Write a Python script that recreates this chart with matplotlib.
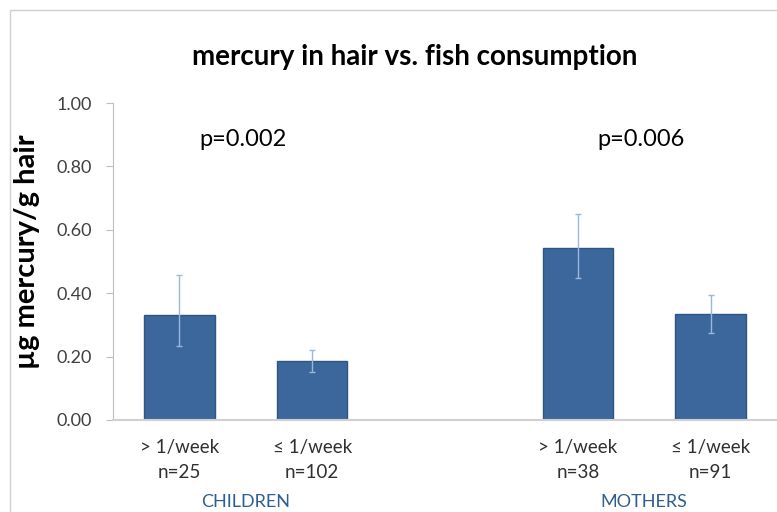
import numpy as np
import matplotlib.pyplot as plt
from matplotlib.patches import Rectangle

# data
positions = [0, 1, 3, 4]
freq_labels = ['> 1/week', '\u2264 1/week', '> 1/week', '\u2264 1/week']
n_labels = ['n=25', 'n=102', 'n=38', 'n=91']
means = [0.331, 0.186, 0.542, 0.334]
err_low = [0.097, 0.036, 0.095, 0.059]
err_high = [0.125, 0.035, 0.107, 0.061]
groups = ['CHILDREN', 'MOTHERS']
group_pos = [0.5, 3.5]
p_values = ['p=0.002', 'p=0.006']
p_pos = [0.5, 3.5]

plt.rcParams['font.family'] = ['Lato', 'DejaVu Sans']

fig = plt.figure(figsize=(7.77, 5.12), dpi=100)
ax = fig.add_axes([113 / 777, 1 - 420 / 512, 1 - 113 / 777, (420 - 103) / 512])

# outer chart border (partly cropped)
fig.patches.append(Rectangle((10 / 777, -0.1), 1.2, 1 - 10 / 512 + 0.1,
                             transform=fig.transFigure, fill=False,
                             edgecolor='#d0d0d0', linewidth=1))

ax.bar(positions, means, width=0.53, color='#3b679d', edgecolor='#2f5580',
       linewidth=1, zorder=2)
ax.errorbar(positions, means, yerr=[err_low, err_high], fmt='none',
            ecolor='#9cb8d8', elinewidth=1, capsize=2, capthick=1, zorder=3)

ax.set_xlim(-0.5, 4.5)
ax.set_ylim(0, 1)
ax.set_yticks(np.arange(0, 1.01, 0.2))
ax.set_yticklabels([f'{v:.2f}' for v in np.arange(0, 1.01, 0.2)], fontsize=13,
                   color='#404040')
ax.set_xticks([])
ax.tick_params(axis='y', direction='out', length=5, color='#bfbfbf', pad=10)

for s in ['top', 'right']:
    ax.spines[s].set_visible(False)
ax.spines['left'].set_color('#bfbfbf')
ax.spines['bottom'].set_color('#d0d0d0')
ax.spines['bottom'].set_linewidth(1.5)

for x, f, n in zip(positions, freq_labels, n_labels):
    ax.text(x, -27 / 317, f, ha='center', va='center', fontsize=13.5, color='#303030')
    ax.text(x, -52 / 317, n, ha='center', va='center', fontsize=13.5, color='#303030')
for x, g in zip(group_pos, groups):
    ax.text(x, -82 / 317, g, ha='center', va='center', fontsize=13, color='#2e5f91')
for x, p in zip(p_pos, p_values):
    ax.text(x - 0.02, 0.885, p, ha='center', va='center', fontsize=17, color='black')

ax.set_ylabel('\u00b5g mercury/g hair', fontsize=21, fontweight='bold', labelpad=6)
ax.yaxis.set_label_coords(-0.11, 0.53)
fig.text(415 / 777, 1 - 57 / 512, 'mercury in hair vs. fish consumption',
         ha='center', va='center', fontsize=20, fontweight='bold')

fig.savefig('out.png', dpi=100)
